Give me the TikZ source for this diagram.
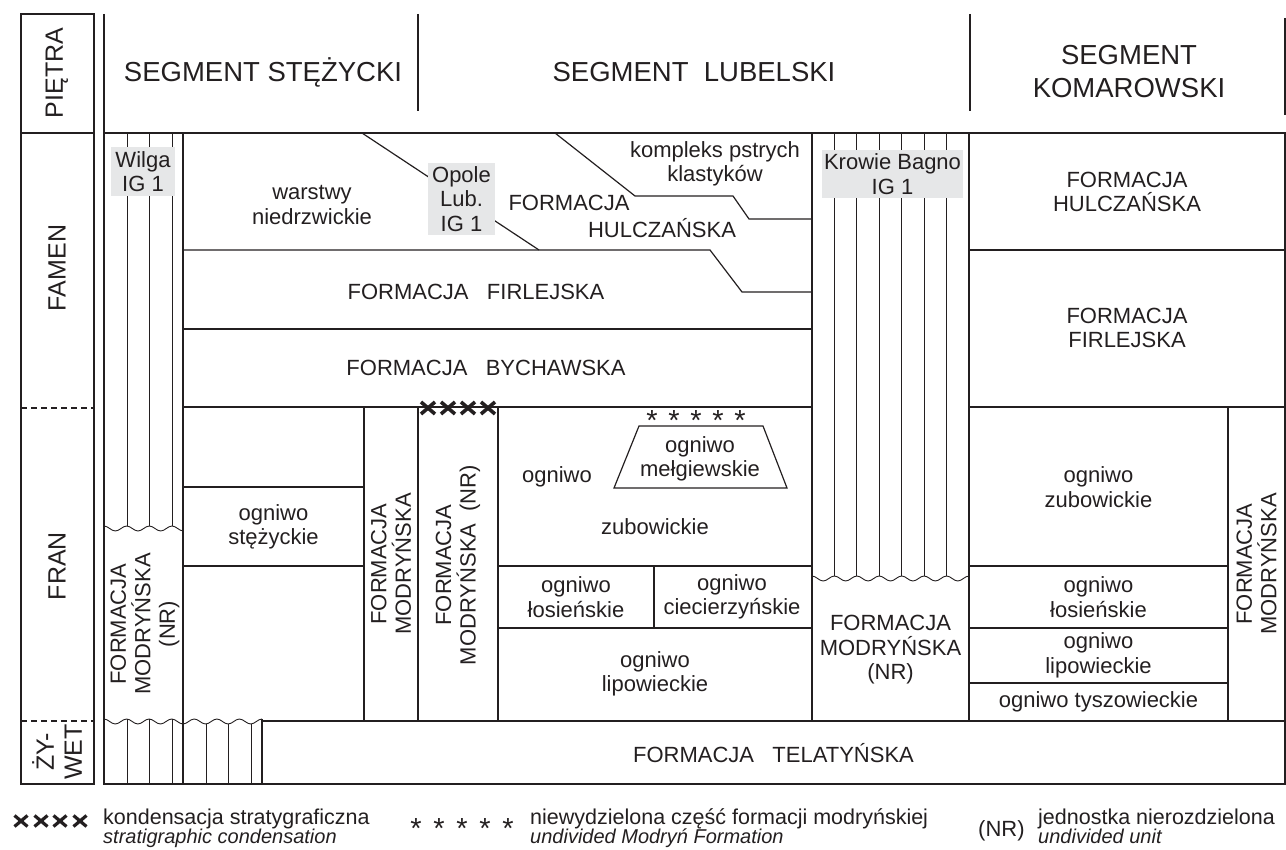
\documentclass[tikz,border=0pt]{standalone}
\usepackage{fontspec}
\setmainfont{Liberation Sans}
\usetikzlibrary{positioning}
\definecolor{ink}{RGB}{35,31,32}
\definecolor{wellgray}{RGB}{230,231,232}

\tikzset{
  frame/.style={draw=ink, line width=1.2pt},
  hatch/.style={draw=ink, line width=0.9pt},
  lbl/.style={text=ink, font=\fontsize{22}{24.5}\selectfont, align=center, inner sep=0pt},
  vlbl/.style={lbl, rotate=90},
  head/.style={lbl, font=\fontsize{27.5}{33}\selectfont},
  stage/.style={lbl, font=\fontsize{25}{28}\selectfont, rotate=90},
  well/.style={lbl, fill=wellgray},
  cond/.style={draw=ink, line width=3.6pt},
  astr/.style={text=ink, font=\fontsize{29}{29}\selectfont, inner sep=0pt, anchor=base, text depth=0pt},
  legtxt/.style={text=ink, font=\fontsize{21.5}{21.5}\selectfont, inner sep=0pt, anchor=base west},
  legit/.style={legtxt, font=\fontsize{20}{20}\selectfont\itshape},
}

\begin{document}
\begin{tikzpicture}[x=1pt, y=-1pt]
\useasboundingbox (0,0) rectangle (1286,850);

% stage column
\draw[frame] (21,14) rectangle (94,784);
\draw[frame] (21,133) -- (94,133);
\draw[frame, dash pattern=on 6pt off 4pt] (21,408) -- (94,408) (21,721) -- (94,721);
\node[stage] (pietra) at (57,73) {PIĘTRA};
\node[stage] (famen) at (57,268) {FAMEN};
\node[stage] (fran) at (57,566) {FRAN};
\node[stage] (zywet) at (57,752) {ŻY-\\WET};

% header
\draw[frame] (104,14) -- (104,784) -- (1285,784) -- (1285,133) -- (104,133);
\draw[frame] (418,14) -- (418,111) (970,14) -- (970,111) (1285,18) -- (1285,115);
\node[head] (sst) at (263,72) {SEGMENT STĘŻYCKI};
\node[head] (slu) at (694,72) {SEGMENT~~LUBELSKI};
\node[head] (sko) at (1129,72) {SEGMENT\\KOMAROWSKI};

% Wilga IG 1
\draw[frame] (183,133) -- (183,784);
\foreach \vx in {127,149,172} \draw[hatch] (\vx,133) -- (\vx,526);
\draw[hatch] (104,526) foreach \k in {1,2,3} {cos ++(5.667,2.5) sin ++(5.667,2.5) cos ++(5.667,-2.5) sin ++(5.667,-2.5)} cos ++(5.667,2.5) sin ++(5.667,2.5);
\node[well, minimum width=64, minimum height=49] (wilga) at (143,171.5) {Wilga\\IG 1};
\node[vlbl] (modwil) at (145,624) {FORMACJA\\MODRYŃSKA\\(NR)};

% zywet hatching
\draw[hatch] (104,719) foreach \k in {1,...,7} {cos ++(5.643,2.5) sin ++(5.643,2.5) cos ++(5.643,-2.5) sin ++(5.643,-2.5)};
\foreach \vx in {127,149,172,206,228,251} {
  \pgfmathsetmacro\vy{719+2.5*(1-cos((\vx-104)/22.571*360))}
  \draw[hatch] (\vx,\vy) -- (\vx,784);
}
\draw[frame] (262,719) -- (262,784);

% Lubelski, famen
\draw[frame] (183,250) -- (710,250) -- (742,292) -- (812,292);
\draw[frame] (362,133) -- (539,250);
\draw[frame] (555,133) -- (635,196) -- (733,196) -- (749,219) -- (812,219);
\draw[frame] (183,329) -- (812,329);
\draw[frame] (183,407) -- (812,407);
\node[well, minimum width=67, minimum height=72] (opole) at (461.5,199) {Opole\\Lub.\\IG 1};
\node[lbl] (niedrz) at (312,205) {warstwy\\niedrzwickie};
\node[lbl] (kompl) at (715,164) {kompleks pstrych\\klastyków};
\node[lbl] (hulca) at (569,203) {FORMACJA};
\node[lbl] (hulcb) at (662,228) {HULCZAŃSKA};
\node[lbl] (firl) at (476,292) {FORMACJA~~~FIRLEJSKA};
\node[lbl] (bych) at (486,368) {FORMACJA~~~BYCHAWSKA};

% Lubelski, fran
\draw[frame] (364,407) -- (364,721) (418,407) -- (418,721) (498,407) -- (498,721);
\draw[frame] (183,487) -- (364,487) (183,566) -- (364,566);
\draw[frame] (498,566) -- (812,566) (498,628) -- (812,628) (654,566) -- (654,628);
\draw[frame] (639,426) -- (763,426) -- (787,488) -- (614,488) -- cycle;
\node[lbl] (stez) at (273.5,527) {ogniwo\\stężyckie};
\node[vlbl] (mod1) at (391,564) {FORMACJA\\MODRYŃSKA};
\node[vlbl] (mod2) at (458,565) {FORMACJA\\MODRYŃSKA~~(NR)};
\node[lbl] (zuba) at (557,477) {ogniwo};
\node[lbl] (zubb) at (655,527) {zubowickie};
\node[lbl] (melg) at (700,459) {ogniwo\\mełgiewskie};
\node[lbl] (losl) at (576,597) {ogniwo\\łosieńskie};
\node[lbl] (ciec) at (732,597) {ogniwo\\ciecierzyńskie};
\node[lbl] (lipl) at (655,674) {ogniwo\\lipowieckie};
\foreach \cx in {428,448,468,488} \draw[cond] (\cx-7,402) -- (\cx+7,414) (\cx-7,414) -- (\cx+7,402);
\foreach \sx [count=\i] in {652,674,696,718,740} \node[astr] (ast\i) at (\sx,431) {*};

% Krowie Bagno IG 1
\draw[frame] (812,133) -- (812,721) (969,133) -- (969,721);
\foreach \i in {1,...,6} \draw[hatch] ({812+22.43*\i},133) -- ({812+22.43*\i},576);
\draw[hatch] (812,576) foreach \k in {1,...,7} {cos ++(5.607,2.5) sin ++(5.607,2.5) cos ++(5.607,-2.5) sin ++(5.607,-2.5)};
\node[well, minimum width=141, minimum height=48] (krowie) at (892.5,174) {Krowie Bagno\\IG 1};
\node[lbl] (modkb) at (890.5,650) {FORMACJA\\MODRYŃSKA\\(NR)};

% Komarowski
\draw[frame] (969,250) -- (1285,250) (969,407) -- (1285,407);
\draw[frame] (1228,407) -- (1228,721);
\draw[frame] (969,566) -- (1228,566) (969,628) -- (1228,628) (969,683) -- (1228,683);
\node[lbl] (hulk) at (1127,192) {FORMACJA\\HULCZAŃSKA};
\node[lbl] (firk) at (1127,328) {FORMACJA\\FIRLEJSKA};
\node[lbl] (zubk) at (1098.5,487) {ogniwo\\zubowickie};
\node[lbl] (losk) at (1098.5,597) {ogniwo\\łosieńskie};
\node[lbl] (lipk) at (1098.5,655.5) {ogniwo\\lipowieckie};
\node[lbl] (tysk) at (1098.5,702) {ogniwo tyszowieckie};
\node[vlbl] (modk) at (1256.5,564) {FORMACJA\\MODRYŃSKA};

% Telatynska
\draw[frame] (262,721) -- (1285,721);
\node[lbl] (tel) at (773.5,753) {FORMACJA~~~TELATYŃSKA};

% legend
\foreach \cx in {21,41,60,80} \draw[cond, line width=3.2pt] (\cx-6.5,815.5) -- (\cx+6.5,826.5) (\cx-6.5,826.5) -- (\cx+6.5,815.5);
\node[legtxt] (lgxa) at (103,824) {kondensacja stratygraficzna};
\node[legit] (lgxb) at (103,843) {stratigraphic condensation};
\foreach \sx [count=\i] in {416,439,462,485,508} \node[astr] (last\i) at (\sx,838) {*};
\node[legtxt] (lgsa) at (530,824) {niewydzielona część formacji modryńskiej};
\node[legit] (lgsb) at (530,843) {undivided Modryń Formation};
\node[legtxt, font=\fontsize{22}{22}\selectfont] (lgnr) at (978,836) {(NR)};
\node[legtxt] (lgna) at (1038,824) {jednostka nierozdzielona};
\node[legit] (lgnb) at (1038,843) {undivided unit};
\end{tikzpicture}
\end{document}
